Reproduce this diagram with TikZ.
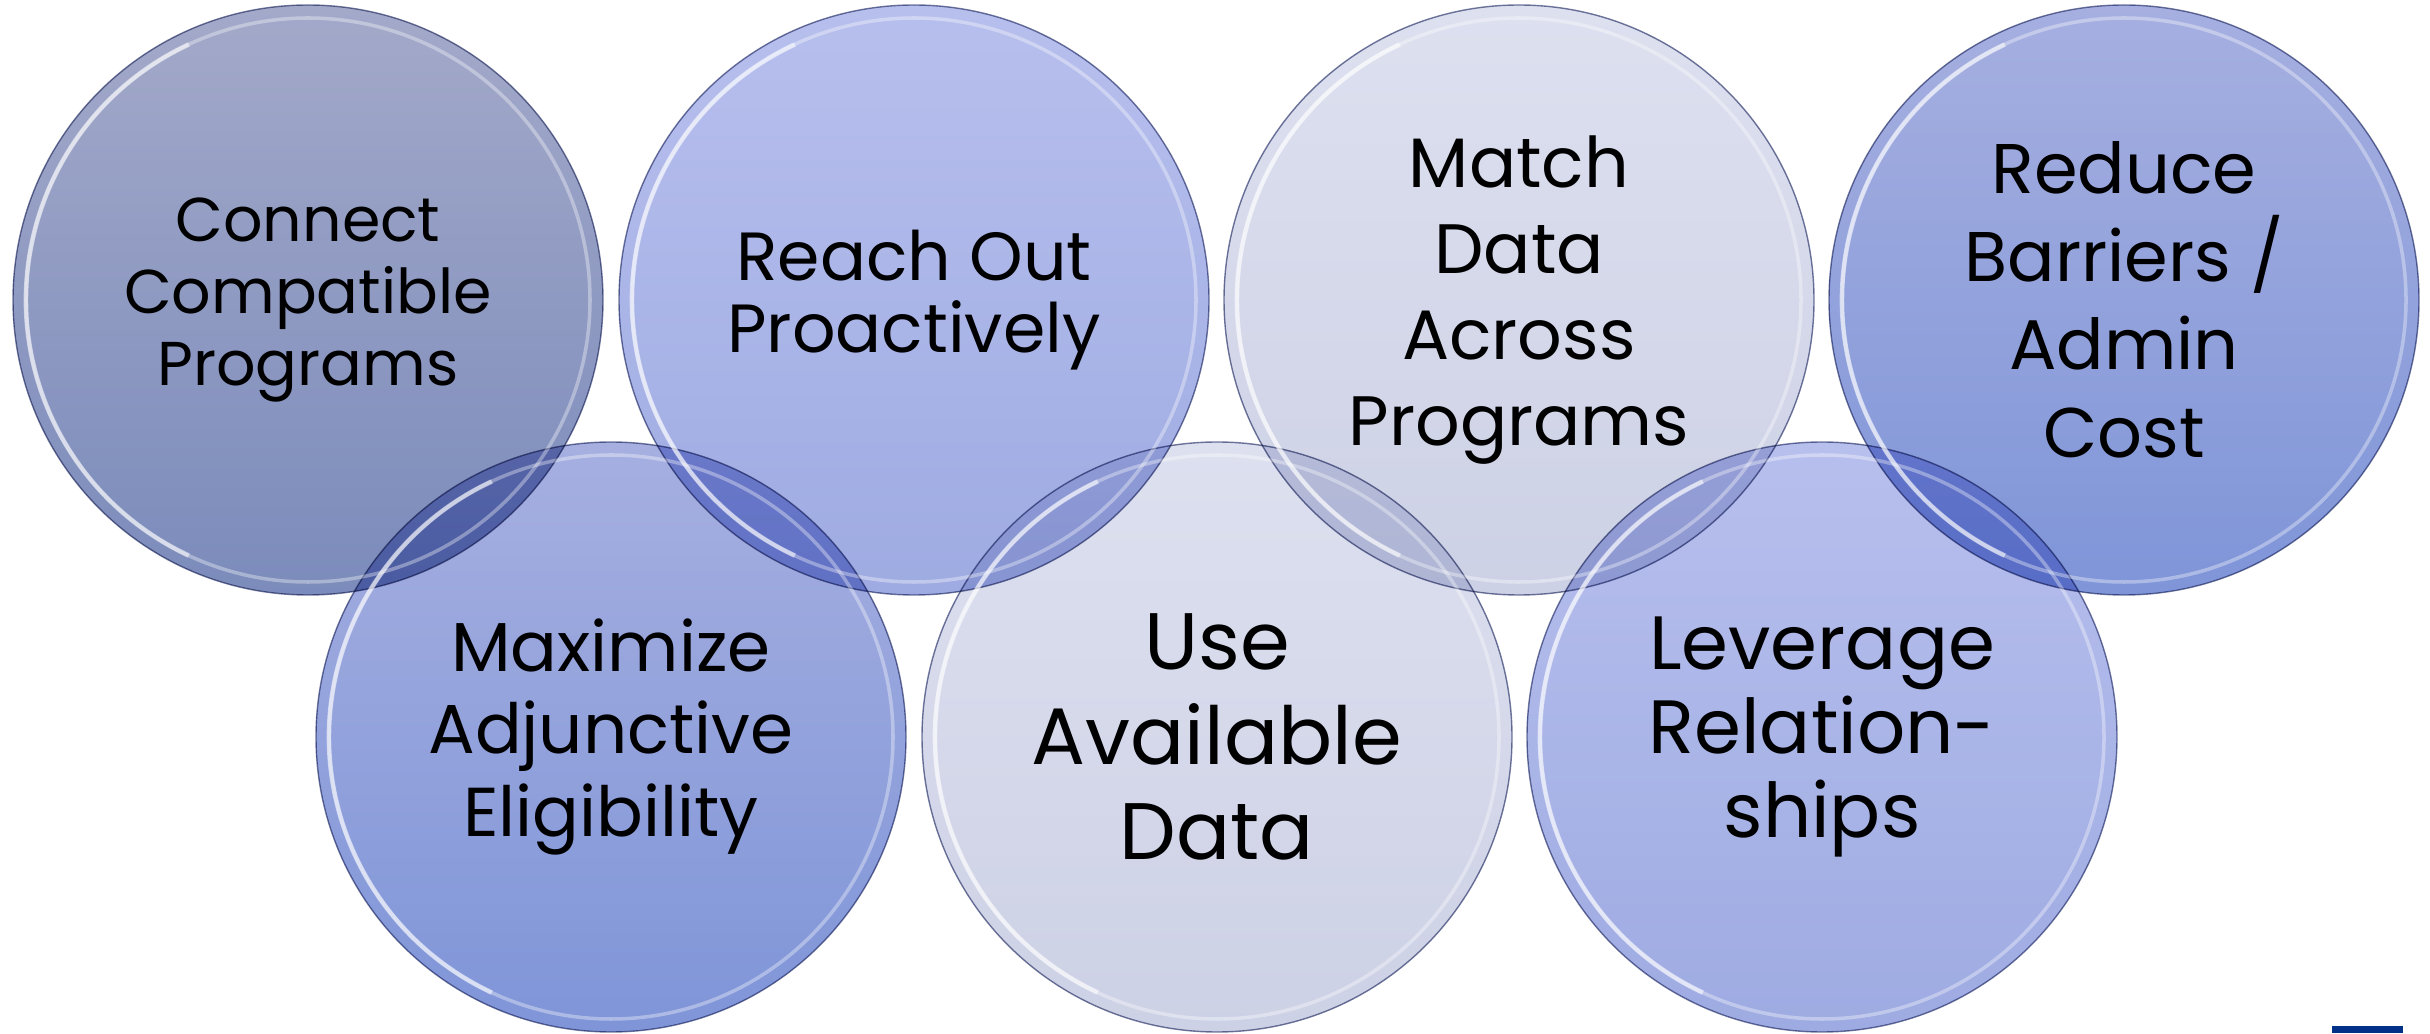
\documentclass[tikz,border=0pt]{standalone}
\usepackage{fontspec}
\setmainfont{Poppins}
\usepackage{xcolor}
\usepackage{tikz}
\usetikzlibrary{calc}

\definecolor{slateTop}{HTML}{A3A9C9}
\definecolor{slateBot}{HTML}{7B8BBB}
\definecolor{periTop}{HTML}{B7BFED}
\definecolor{periBot}{HTML}{9EABE2}
\definecolor{mistTop}{HTML}{DDE0EF}
\definecolor{mistBot}{HTML}{CDD1E5}
\definecolor{blueTop}{HTML}{A6AFE0}
\definecolor{blueBot}{HTML}{7F95D8}
\definecolor{rimcol}{HTML}{737A9E}
\definecolor{navy}{HTML}{003087}

\begin{document}
\begin{tikzpicture}[line width=.6]
    \tikzstyle{bubble}=[circle, minimum size=5.9cm, inner sep=0pt, align=center, draw=rimcol, line width=.4pt, blend mode=multiply]
    \tikzstyle{shine}=[draw=white, line width=1pt, opacity=.35]
    \tikzstyle{glint}=[draw=white, line width=1.3pt, opacity=.55]
    \tikzstyle{slate}=[top color=slateTop, bottom color=slateBot]
    \tikzstyle{peri}=[top color=periTop, bottom color=periBot]
    \tikzstyle{mist}=[top color=mistTop, bottom color=mistBot]
    \tikzstyle{deep}=[top color=blueTop, bottom color=blueBot]

    \useasboundingbox (0,0) rectangle (24.3,10.33);

    \node[bubble, slate, font=\fontsize{17.6}{20.5}\selectfont] (connect) at (3.08,7.33) {Connect\\Compatible\\Programs};
    \node[bubble, peri, font=\fontsize{19.4}{20.5}\selectfont] (reach) at (9.14,7.33) {Reach Out\\Proactively};
    \node[bubble, mist, font=\fontsize{19.9}{24.5}\selectfont] (match) at (15.19,7.33) {Match\\Data\\Across\\Programs};
    \node[bubble, deep, font=\fontsize{20}{25}\selectfont] (reduce) at (21.24,7.33) {Reduce\\Barriers /\\Admin\\Cost};
    \node[bubble, deep, font=\fontsize{19.7}{23.5}\selectfont] (maximize) at (6.11,2.96) {Maximize\\Adjunctive\\Eligibility};
    \node[bubble, mist, font=\fontsize{22.8}{27}\selectfont] (use) at (12.17,2.96) {Use\\Available\\Data};
    \node[bubble, peri, font=\fontsize{21.5}{24}\selectfont] (leverage) at (18.22,2.96) {Leverage\\Relation-\\ships};

    \foreach \n in {connect,reach,match,reduce,maximize,use,leverage} {
        \draw[shine] (\n.center) circle (2.82);
        \draw[glint] ($(\n.center)+(115:2.82)$) arc (115:245:2.82);
    }

    \fill[navy] (23.32,0) rectangle (24.03,0.07);
\end{tikzpicture}
\end{document}
